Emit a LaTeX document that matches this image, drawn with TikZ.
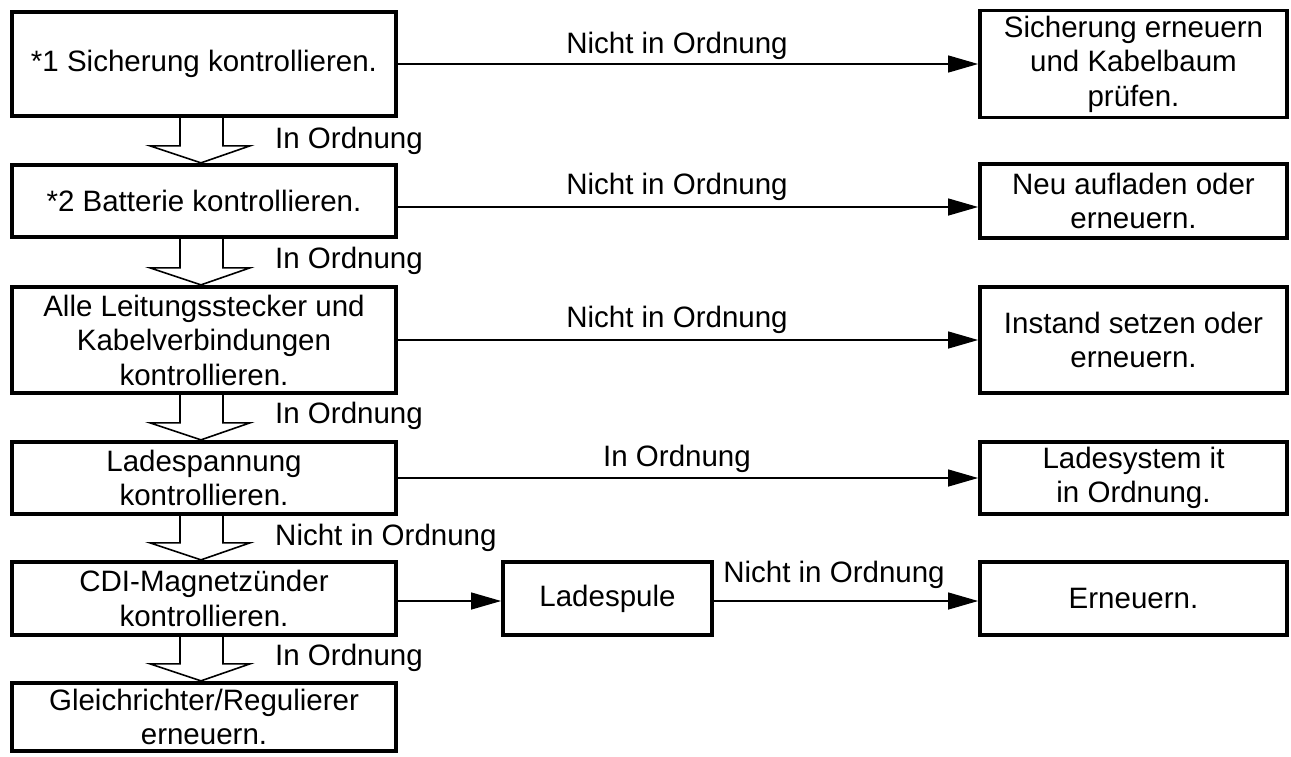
\documentclass[tikz,border=0pt]{standalone}
\usepackage{fontspec}
\setmainfont{Liberation Sans}
\usetikzlibrary{arrows.meta,calc}
\newcommand\diagfs{\fontsize{29.5}{34.5}\selectfont}
\begin{document}
\begin{tikzpicture}[x=1pt,y=-1pt,
  box/.style={draw, line width=3.8pt, inner sep=0pt, align=center, font=\diagfs},
  lbox/.style={box, minimum width=384pt},
  rbox/.style={box, minimum width=307pt},
  lbl/.style={inner sep=0pt, font=\diagfs},
  conn/.style={line width=1.3pt, -{Triangle[length=30pt,width=17pt]}},
  barrow/.style={line width=1.6pt, line join=miter}]
\useasboundingbox (0,0) rectangle (1291,756);
% left column
\node[lbox, minimum height=104.5pt] (b1) at (204,64) {*1 Sicherung kontrollieren.};
\node[lbox, minimum height=72.5pt] (b2) at (204,201) {*2 Batterie kontrollieren.};
\node[lbox, minimum height=106.5pt] (b3) at (204,340) {Alle Leitungsstecker und\\Kabelverbindungen\\kontrollieren.};
\node[lbox, minimum height=72.5pt] (b4) at (204,478) {Ladespannung\\kontrollieren.};
\node[lbox, minimum height=73.5pt] (b5) at (204,598.5) {CDI-Magnetzünder\\kontrollieren.};
\node[lbox, minimum height=68.5pt] (b6) at (204,717) {Gleichrichter/Regulierer\\erneuern.};
% right column
\node[rbox, minimum height=107pt] (r1) at (1133.5,64) {Sicherung erneuern\\und Kabelbaum\\prüfen.};
\node[rbox, minimum height=73.5pt] (r2) at (1133.5,201) {Neu aufladen oder\\erneuern.};
\node[rbox, minimum height=106.5pt] (r3) at (1133.5,340) {Instand setzen oder\\erneuern.};
\node[rbox, minimum height=72.5pt] (r4) at (1133.5,478) {Ladesystem it\\in Ordnung.};
\node[rbox, minimum height=73.5pt] (r5) at (1133.5,598.5) {Erneuern.};
\node[box, minimum width=209pt, minimum height=73.5pt] (lade) at (607.5,598.5) {Ladespule};
% horizontal connectors
\draw[conn] (b1.east) -- (r1.west);
\draw[conn] ([yshift=-6pt]b2.east) -- ([yshift=-6pt]r2.west);
\draw[conn] (b3.east) -- (r3.west);
\draw[conn] (b4.east) -- (r4.west);
\draw[conn] ([yshift=-2.5pt]b5.east) -- ([yshift=-2.5pt]lade.west);
\draw[conn] ([yshift=-2.5pt]lade.east) -- ([yshift=-2.5pt]r5.west);
% labels on horizontal connectors
\node[lbl, anchor=base] (l1) at (677,53) {Nicht in Ordnung};
\node[lbl, anchor=base] (l2) at (677,194) {Nicht in Ordnung};
\node[lbl, anchor=base] (l3) at (677,327) {Nicht in Ordnung};
\node[lbl, anchor=base] (l4) at (677,466) {In Ordnung};
\node[lbl, anchor=base] (l5) at (834,582) {Nicht in Ordnung};
% block arrows
\newcommand\blockarr[2]{%
  \draw[barrow] let \p1=(#1.south), \p2=(#2.north) in
    (180pt,\y1) -- (180pt,\y2+17pt) -- (150pt,\y2+17pt) -- (201pt,\y2)
    -- (250pt,\y2+17pt) -- (223pt,\y2+17pt) -- (223pt,\y1);}
\blockarr{b1}{b2}
\blockarr{b2}{b3}
\blockarr{b3}{b4}
\blockarr{b4}{b5}
\blockarr{b5}{b6}
% labels on block arrows
\node[lbl, anchor=base west] (v1) at (275,148) {In Ordnung};
\node[lbl, anchor=base west] (v2) at (275,268) {In Ordnung};
\node[lbl, anchor=base west] (v3) at (275,423) {In Ordnung};
\node[lbl, anchor=base west] (v4) at (275,545) {Nicht in Ordnung};
\node[lbl, anchor=base west] (v5) at (275,665) {In Ordnung};
\end{tikzpicture}
\end{document}
